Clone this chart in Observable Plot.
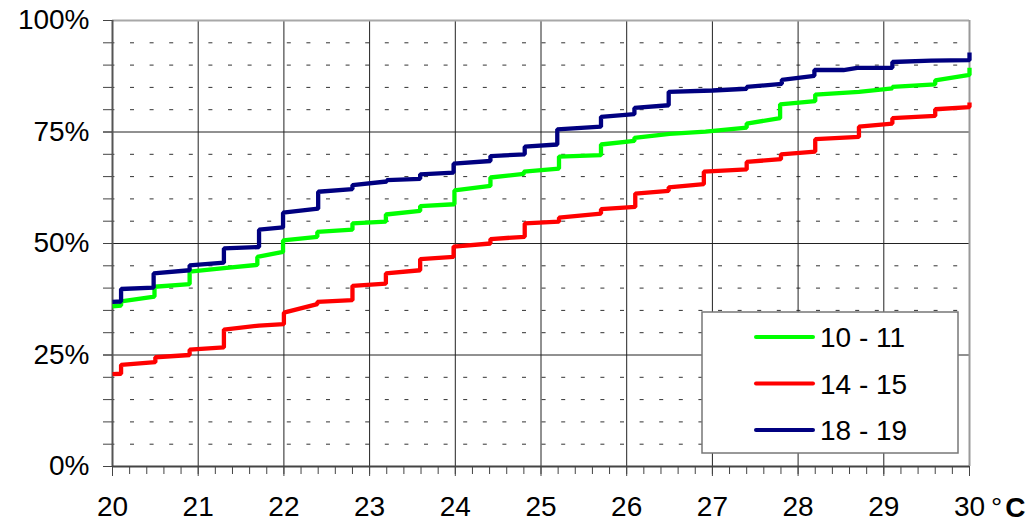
<!DOCTYPE html>
<html>
<head>
<meta charset="utf-8">
<script src="https://cdn.jsdelivr.net/npm/d3@7"></script>
<script src="https://cdn.jsdelivr.net/npm/@observablehq/plot@0.6"></script>
<style>
  html, body { margin: 0; padding: 0; background: #fff; }
  #chart { width: 1033px; height: 522px; }
</style>
</head>
<body>
<div id="chart"></div>
<script>
// ---- data ----
const seriesNames = ["10 - 11", "14 - 15", "18 - 19"];
const seriesColors = ["#00ff00", "#ff0000", "#000080"];

const xTicks = [20, 21, 22, 23, 24, 25, 26, 27, 28, 29, 30];
const yTicks = [0, 25, 50, 75, 100];
const yTickLabels = ["0%", "25%", "50%", "75%", "100%"];

const greenT = [20.0,20.1,20.1,20.49,20.49,20.9,20.9,21.3,21.69,21.69,21.99,21.99,22.39,22.39,22.8,22.8,23.19,23.19,23.59,23.59,23.99,23.99,24.41,24.41,24.8,24.8,25.21,25.21,25.7,25.7,26.09,26.09,26.5,26.92,27.4,27.4,27.79,27.79,28.2,28.2,28.71,29.1,29.1,29.6,29.6,30.0,30.0];
const greenP = [35.9,36.1,37.0,38.1,40.3,40.9,43.7,44.5,45.2,47.0,48.1,50.7,51.5,52.6,53.1,54.5,54.9,56.5,57.3,58.4,58.8,61.9,62.9,64.8,65.6,66.1,66.8,69.5,69.8,72.2,73.0,73.7,74.6,75.1,76.0,76.9,78.1,81.2,81.9,83.4,84.0,84.8,85.1,85.7,86.6,87.8,89.4];

const redT = [20.0,20.1,20.1,20.5,20.5,20.9,20.9,21.3,21.3,21.71,22.0,22.0,22.39,22.39,22.8,22.8,23.19,23.19,23.59,23.59,23.98,23.98,24.41,24.41,24.81,24.81,25.21,25.21,25.7,25.7,26.1,26.1,26.49,26.49,26.9,26.9,27.4,27.4,27.8,27.8,28.2,28.2,28.71,28.71,29.1,29.1,29.6,29.6,30.0,30.0];
const redP = [20.7,20.8,22.8,23.4,24.5,25.0,26.2,26.7,30.7,31.6,31.9,34.5,36.4,36.9,37.3,40.5,41.0,43.3,44.0,46.5,47.0,49.3,50.0,51.0,51.5,54.5,54.9,55.8,56.7,57.7,58.2,61.2,61.8,62.6,63.3,66.1,66.6,68.3,68.9,70.0,70.6,73.4,73.9,76.2,76.9,78.1,78.6,80.1,80.6,81.6];

const blueT = [20.0,20.1,20.1,20.48,20.48,20.9,20.9,21.3,21.3,21.71,21.71,21.99,21.99,22.4,22.4,22.8,22.8,23.2,23.2,23.59,23.59,23.98,23.98,24.41,24.41,24.81,24.81,25.19,25.19,25.7,25.7,26.09,26.09,26.49,26.49,27.0,27.4,27.4,27.81,27.81,28.19,28.19,28.53,28.69,29.1,29.1,29.55,30.0,30.0];
const blueP = [36.9,37.0,39.8,40.1,43.3,44.0,45.1,45.7,48.9,49.2,53.1,53.6,56.9,57.8,61.6,62.2,63.1,63.9,64.2,64.5,65.5,65.9,67.9,68.5,69.6,70.0,71.7,72.2,75.6,76.2,78.4,79.0,80.4,81.0,84.0,84.3,84.7,85.1,85.8,86.7,87.6,88.9,88.9,89.4,89.4,90.7,91.0,91.1,92.8];

// ---- build table ----
const seriesT = [greenT, redT, blueT];
const seriesP = [greenP, redP, blueP];
const rows = [];
seriesNames.forEach((name, i) => {
  seriesT[i].forEach((t, j) => rows.push({series: name, t, p: seriesP[i][j]}));
});

const minorX = d3.range(200, 301, 2).map(v => v / 10);
const minorY = d3.range(0, 101, 5);
const dottedY = minorY.filter(v => v % 25 !== 0);
const gridX = xTicks.slice(1, -1);
const gridY = [25, 50, 75];

const FONT = 28;

const chart = Plot.plot({
  width: 1033,
  height: 522,
  marginLeft: 112,
  marginRight: 64,
  marginTop: 20,
  marginBottom: 56,
  style: {fontFamily: "'Liberation Sans', Arial, sans-serif", fontSize: FONT + "px", background: "#fff", color: "#000"},
  x: {domain: [20, 30], label: null},
  y: {domain: [0, 100], label: null},
  color: {domain: seriesNames, range: seriesColors},
  marks: [
    Plot.ruleY(dottedY, {stroke: "#333", strokeWidth: 1, strokeDasharray: "4 15.6", strokeDashoffset: 1.6}),
    Plot.ruleX(gridX, {stroke: "#222", strokeWidth: 1}),
    Plot.ruleY(gridY, {stroke: "#222", strokeWidth: 1}),
    Plot.ruleY([100], {stroke: "#a8a8a8", strokeWidth: 2}),
    Plot.ruleX([30], {stroke: "#999", strokeWidth: 2}),
    Plot.ruleX([20], {stroke: "#555", strokeWidth: 2}),
    Plot.ruleY([0], {stroke: "#444", strokeWidth: 2}),
    Plot.axisX(minorX, {tickSize: 8, fill: "none", stroke: "#444", strokeWidth: 1}),
    Plot.axisX(xTicks, {tickSize: 10, tickPadding: 20, fontSize: FONT, stroke: "#444", fill: "#000"}),
    Plot.axisY(minorY, {tickSize: 9, fill: "none", stroke: "#444"}),
    Plot.axisY(yTicks, {tickSize: 9, tickPadding: 14, fontSize: FONT, stroke: "#444", fill: "#000",
      tickFormat: d => yTickLabels[yTicks.indexOf(d)]}),
    Plot.line(rows, {x: "t", y: "p", z: "series", stroke: "series", strokeWidth: 4.3, curve: "linear",
      strokeLinejoin: "miter", strokeLinecap: "butt"})
  ]
});

document.getElementById("chart").appendChild(chart);

// ---- unit label and legend ----
const svg = d3.select(chart);
const unit = svg.append("text")
  .attr("x", 991).attr("y", 517).attr("text-anchor", "start")
  .attr("font-size", FONT).attr("fill", "#000");
unit.append("tspan").text("°");
unit.append("tspan").attr("dx", 3).attr("font-weight", "bold").text("C");

const lg = svg.append("g");
lg.append("rect").attr("x", 702).attr("y", 312).attr("width", 256).attr("height", 141)
  .attr("fill", "#fff").attr("stroke", "#777").attr("stroke-width", 1.5);
const rowY = [337, 383.5, 430];
seriesNames.forEach((name, i) => {
  lg.append("line").attr("x1", 756).attr("x2", 813).attr("y1", rowY[i]).attr("y2", rowY[i])
    .attr("stroke", seriesColors[i]).attr("stroke-width", 4).attr("stroke-linecap", "round");
  lg.append("text").attr("x", 820).attr("y", rowY[i]).attr("dy", "0.36em").attr("text-anchor", "start")
    .attr("font-size", FONT).attr("fill", "#000").text(name);
});
</script>
</body>
</html>
